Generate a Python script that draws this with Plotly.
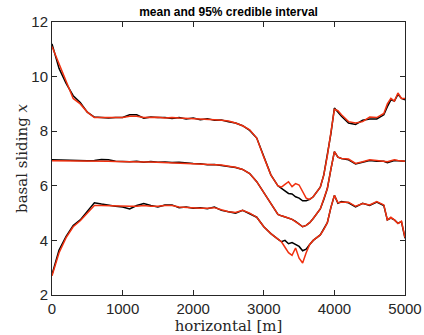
import plotly.graph_objects as go

x = [0, 100, 200, 300, 400, 500, 600, 700, 800, 900, 1000, 1100, 1200, 1300, 1400, 1500,
     1600, 1700, 1800, 1900, 2000, 2100, 2200, 2300, 2400, 2500, 2600, 2700, 2800, 2900,
     3000, 3100, 3200, 3250, 3300, 3350, 3400, 3450, 3500, 3550, 3600, 3650, 3700,
     3800, 3850, 3900, 3950, 4000, 4050, 4100, 4200, 4300, 4400, 4500, 4600, 4700,
     4750, 4800, 4850, 4900, 4950, 5000]

upper_red = [11.1, 10.45, 9.8, 9.2, 9.0, 8.7, 8.5, 8.5, 8.5, 8.5, 8.5, 8.55, 8.55, 8.5, 8.5, 8.51,
             8.48, 8.5, 8.48, 8.47, 8.47, 8.44, 8.45, 8.42, 8.4, 8.37, 8.3, 8.2, 8.05, 7.75,
             7.05, 6.4, 6.0, 5.95, 6.05, 6.15, 5.97, 6.08, 6.03, 5.8, 5.55, 5.5, 5.6,
             5.95, 6.4, 7.1, 7.9, 8.8, 8.75, 8.6, 8.35, 8.3, 8.35, 8.52, 8.5, 8.65,
             9.0, 9.2, 9.1, 9.4, 9.2, 9.2]
upper_black = [11.2, 10.3, 9.75, 9.3, 9.05, 8.7, 8.52, 8.5, 8.48, 8.5, 8.5, 8.6, 8.6, 8.48, 8.52, 8.5,
               8.5, 8.47, 8.5, 8.45, 8.48, 8.42, 8.46, 8.4, 8.41, 8.35, 8.3, 8.2, 8.03, 7.75,
               7.05, 6.4, 6.0, 5.9, 5.8, 5.72, 5.7, 5.6, 5.55, 5.45, 5.45, 5.5, 5.6,
               5.95, 6.4, 7.1, 7.9, 8.85, 8.7, 8.55, 8.3, 8.25, 8.4, 8.45, 8.45, 8.6,
               8.9, 9.15, 9.1, 9.35, 9.2, 9.15]

mean_red = [6.92, 6.92, 6.91, 6.91, 6.9, 6.9, 6.9, 6.9, 6.9, 6.89, 6.88, 6.88, 6.87, 6.87, 6.87, 6.86,
            6.85, 6.85, 6.84, 6.82, 6.82, 6.8, 6.78, 6.77, 6.76, 6.72, 6.68, 6.6, 6.45, 6.15,
            5.75, 5.3, 4.95, 4.9, 4.87, 4.82, 4.77, 4.7, 4.6, 4.5, 4.55, 4.65, 4.8,
            5.15, 5.5, 5.9, 6.6, 7.25, 7.05, 7.0, 6.98, 6.82, 6.88, 6.95, 6.93, 6.9,
            6.88, 6.92, 6.95, 6.93, 6.92, 6.9]
mean_black = [6.95, 6.94, 6.93, 6.92, 6.92, 6.92, 6.93, 6.96, 6.95, 6.9, 6.89, 6.88, 6.9, 6.86, 6.89, 6.86,
              6.87, 6.85, 6.86, 6.83, 6.82, 6.81, 6.77, 6.78, 6.75, 6.72, 6.67, 6.6, 6.45, 6.15,
              5.75, 5.3, 4.95, 4.9, 4.86, 4.82, 4.77, 4.7, 4.6, 4.5, 4.55, 4.65, 4.8,
              5.15, 5.5, 5.9, 6.6, 7.25, 7.05, 7.0, 6.95, 6.8, 6.86, 6.93, 6.9, 6.9,
              6.85, 6.9, 6.93, 6.92, 6.92, 6.9]

lower_red = [2.7, 3.55, 4.1, 4.5, 4.72, 5.0, 5.28, 5.28, 5.27, 5.25, 5.25, 5.25, 5.25, 5.28, 5.25, 5.25,
             5.28, 5.28, 5.22, 5.2, 5.2, 5.18, 5.18, 5.2, 5.12, 5.05, 5.02, 5.1, 5.0, 4.85,
             4.5, 4.25, 4.05, 3.95, 3.75, 3.55, 3.45, 3.72, 3.35, 3.17, 3.55, 3.85, 4.0,
             4.2, 4.4, 4.65, 5.2, 5.65, 5.38, 5.4, 5.4, 5.25, 5.35, 5.3, 5.42, 5.3,
             4.75, 4.85, 4.75, 4.62, 4.7, 4.1]
lower_black = [2.75, 3.65, 4.15, 4.55, 4.75, 5.05, 5.38, 5.33, 5.28, 5.25, 5.22, 5.15, 5.28, 5.35, 5.28, 5.22,
               5.3, 5.3, 5.2, 5.22, 5.18, 5.2, 5.16, 5.22, 5.1, 5.05, 5.0, 5.1, 4.98, 4.85,
               4.5, 4.25, 4.05, 3.95, 4.0, 3.88, 3.92, 3.85, 3.78, 3.62, 3.68, 3.85, 4.0,
               4.2, 4.4, 4.65, 5.2, 5.65, 5.36, 5.42, 5.38, 5.23, 5.36, 5.28, 5.4, 5.28,
               4.75, 4.82, 4.75, 4.63, 4.68, 4.08]

x_ticks = [0, 1000, 2000, 3000, 4000, 5000]
y_ticks = [2, 4, 6, 8, 10, 12]

BLACK = "#000000"
RED = "#f0300f"

fig = go.Figure()
for ys in (upper_black, mean_black, lower_black):
    fig.add_trace(go.Scatter(x=x, y=ys, mode="lines", line=dict(color=BLACK, width=1.5),
                             showlegend=False, hoverinfo="skip"))
for ys in (upper_red, mean_red, lower_red):
    fig.add_trace(go.Scatter(x=x, y=ys, mode="lines", line=dict(color=RED, width=1.5),
                             showlegend=False, hoverinfo="skip"))

axis_common = dict(showgrid=False, zeroline=False, showline=True, linecolor="#262626",
                   linewidth=1, mirror="ticks", ticks="inside", ticklen=5,
                   tickcolor="#262626", tickwidth=1, automargin=False,
                   tickfont=dict(family="Liberation Sans, Arial, sans-serif", size=15, color="#262626"))

fig.update_layout(
    width=424, height=335,
    margin=dict(l=52, r=19, t=22, b=40),
    paper_bgcolor="white", plot_bgcolor="white",
    title=dict(text="<b>mean and 95% credible interval</b>", x=0.539, xanchor="center",
               y=0.965, yanchor="middle",
               font=dict(family="Liberation Sans, Arial, sans-serif", size=12, color="#000000")),
    xaxis=dict(range=[0, 5000], tickvals=x_ticks, ticktext=[str(v) for v in x_ticks],
               title=dict(text="horizontal [m]", standoff=0,
                          font=dict(family="DejaVu Serif, Liberation Serif, serif", size=15, color="#262626")),
               **axis_common),
    yaxis=dict(range=[2, 12], tickvals=y_ticks, ticktext=[str(v) for v in y_ticks],
               title=dict(text="basal sliding <i>x</i>", standoff=0,
                          font=dict(family="DejaVu Serif, Liberation Serif, serif", size=15, color="#262626")),
               **axis_common),
)

fig.write_html("out.html", config={"displayModeBar": False, "staticPlot": True},
               post_script="document.body.style.margin='0px';document.body.style.overflow='hidden';")
